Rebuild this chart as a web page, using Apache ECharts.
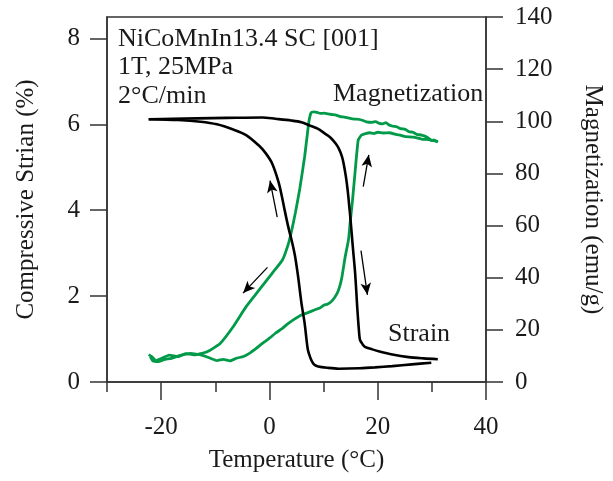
<!DOCTYPE html>
<html>
<head>
<meta charset="utf-8">
<script src="https://cdn.jsdelivr.net/npm/echarts@6/dist/echarts.min.js"></script>
<style>
  html, body { margin: 0; padding: 0; background: #fff; }
  #chart { width: 613px; height: 481px; }
</style>
</head>
<body>
<div id="chart"></div>
<script>
// Strain, heating branch (temperature °C, strain %)
const strainHeatT = [-22.3, -18, -13.3, -7.9, -1.3, 1.1, 4, 5.9, 7.5, 8.9, 10.2, 11.3, 12.2, 12.8, 13.4, 13.7, 14.1, 14.45, 14.7, 14.93, 15.2, 15.4, 15.83, 16.25, 16.5, 16.73, 17.2, 17.63, 19, 20.33, 22.7, 25.7, 28.5, 31.1];
const strainHeatS = [6.12, 6.13, 6.14, 6.15, 6.16, 6.13, 6.09, 6.05, 5.97, 5.90, 5.79, 5.69, 5.56, 5.44, 5.25, 5.09, 4.80, 4.47, 4.15, 3.85, 3.45, 3.15, 2.53, 1.68, 1.25, 0.98, 0.88, 0.82, 0.76, 0.71, 0.64, 0.58, 0.55, 0.53];

// Strain, cooling branch
const strainCoolT = [29.9, 26.3, 22.7, 19.5, 16.7, 12.8, 10.7, 9, 8.3, 7.9, 7.6, 7.1, 6.5, 5.9, 5.3, 4.7, 4.1, 3.5, 2.9, 2.3, 1.7, 0.5, -0.7, -1.9, -4.3, -6.7, -9.7, -12.7, -16.9, -22.3];
const strainCoolS = [0.45, 0.41, 0.37, 0.34, 0.32, 0.31, 0.33, 0.36, 0.40, 0.47, 0.55, 0.75, 1.37, 1.85, 2.45, 2.95, 3.30, 3.60, 3.95, 4.32, 4.65, 5.09, 5.33, 5.50, 5.75, 5.88, 6.00, 6.06, 6.10, 6.12];

// Magnetization, cooling branch (temperature °C, emu/g)
const magCoolT = [31.1, 30.4, 30, 29.2, 28.1, 27.2, 26.5, 25.8, 25.1, 24.2, 23.5, 22.8, 22.1, 21.5, 20.9, 20.3, 19.6, 19, 17.9, 17.0, 16.1, 15.3, 14.5, 13.8, 13.1, 12.3, 11.5, 10.8, 10.1, 9.4, 8.8, 8.2, 7.7, 7.3, 7.0, 6.5, 5.6, 4.8, 4.1, 3.5, 2.4, 0.5, -1.9, -4.3, -6.7, -9.1, -11.5, -13.9, -15.5, -16.9, -18.5, -19.9, -21.0, -21.7, -22.3];
const magCoolM = [92.0, 92.9, 92.6, 93.8, 94.7, 95.0, 95.8, 96.0, 96.9, 97.2, 97.9, 98.1, 98.6, 99.5, 99.0, 99.2, 99.9, 99.6, 99.8, 100.5, 100.8, 100.9, 101.3, 101.6, 101.8, 102.4, 102.6, 102.8, 103.1, 103.0, 103.4, 103.6, 103.3, 100.0, 95.0, 86.4, 74.0, 65.0, 58.0, 53.0, 46.8, 41.7, 35.3, 28.9, 21.2, 14.8, 11.6, 10.4, 10.9, 9.7, 10.3, 9.1, 8.2, 9.7, 10.5];

// Magnetization, heating branch
const magHeatT = [-22.0, -21.5, -20.5, -19.5, -18.1, -16.5, -14.5, -13.3, -12.7, -11.5, -10.9, -9.7, -8.5, -7.3, -6.1, -4.8, -3.7, -2.5, -1.3, 0, 1.1, 2.4, 3.5, 4.7, 5.9, 7.1, 8.3, 9.3, 10.1, 10.7, 11.6, 12.5, 13.0, 13.4, 14.0, 14.6, 14.9, 15.35, 15.8, 16.4, 17.0, 18.5, 19.3, 20, 21.0, 22.1, 23.5, 24.3, 25.1, 26.6, 28.1, 29.6, 31.1];
const magHeatM = [9.7, 8.0, 7.8, 8.6, 9.1, 10.2, 11.0, 10.6, 10.4, 9.6, 9.1, 8.2, 8.7, 8.1, 9.1, 9.8, 11.0, 12.8, 14.8, 16.8, 18.7, 20.6, 22.5, 24.2, 25.7, 26.6, 27.6, 28.4, 29.5, 29.8, 31.2, 34.0, 36.8, 40.4, 48.1, 54.5, 60.9, 69.8, 80.1, 92.8, 94.7, 95.6, 95.3, 95.8, 95.5, 95.6, 94.9, 94.6, 94.1, 93.9, 93.2, 92.9, 92.2];

// Axis tick values
const xMajorTicks = [-20, 0, 20, 40];
const xMinorTicks = [-30, -10, 10, 30];
const strainTicks = [0, 2, 4, 6, 8];

// Direction arrows, in (temperature, strain) units: [start, end]
const arrowPaths = [
  [[1.44, 3.84], [0.11, 4.69]],
  [[17.33, 4.55], [18.35, 5.29]],
  [[-0.36, 2.67], [-4.86, 2.07]],
  [[16.91, 3.06], [18.10, 2.03]]
];

const zip = (a, b) => a.map((v, i) => [v, b[i]]);

const FONT = "'Liberation Serif', 'DejaVu Serif', serif";
const AX = '#333';
const GREEN = '#009a49';

const chart = echarts.init(document.getElementById('chart'), null, { renderer: 'canvas' });

const axisLine = { show: true, onZero: false, lineStyle: { color: AX, width: 1.5 } };
const tickStyle = { color: AX, width: 1.5 };
const labelStyle = { fontFamily: FONT, fontSize: 25, color: '#1a1a1a' };
const nameStyle = { fontFamily: FONT, fontSize: 25, color: '#1a1a1a' };

chart.setOption({
  animation: false,
  backgroundColor: '#fff',
  grid: {
    left: 107, right: 117, top: 17, bottom: 99,
    show: true, borderColor: AX, borderWidth: 1.5, backgroundColor: 'transparent'
  },
  xAxis: [
    {
      type: 'value', min: -30, max: 40, interval: 10, position: 'bottom',
      axisLine,
      axisTick: { show: true, customValues: xMajorTicks, length: 18, lineStyle: tickStyle },
      axisLabel: Object.assign({ customValues: xMajorTicks, margin: 33 }, labelStyle),
      splitLine: { show: false },
      name: 'Temperature (°C)', nameLocation: 'middle', nameGap: 66, nameTextStyle: nameStyle
    },
    {
      type: 'value', min: -30, max: 40, interval: 10, position: 'bottom',
      axisLine: { show: false, onZero: false },
      axisTick: { show: true, customValues: xMinorTicks, length: 10, lineStyle: tickStyle },
      axisLabel: { show: false },
      splitLine: { show: false }
    }
  ],
  yAxis: [
    {
      type: 'value', min: 0, max: 8.5, interval: 2, position: 'left',
      axisLine,
      axisTick: { show: true, customValues: strainTicks, length: 17, lineStyle: tickStyle },
      axisLabel: Object.assign({ customValues: strainTicks, margin: 27 }, labelStyle),
      splitLine: { show: false },
      name: 'Compressive Strian (%)', nameLocation: 'middle', nameGap: 68, nameTextStyle: nameStyle
    },
    {
      type: 'value', min: 0, max: 140, interval: 20, position: 'right',
      axisLine,
      axisTick: { show: true, length: 17, lineStyle: tickStyle },
      axisLabel: Object.assign({ margin: 29 }, labelStyle),
      splitLine: { show: false },
      name: 'Magnetization (emu/g)', nameLocation: 'middle', nameGap: 94, nameRotate: -90, nameTextStyle: nameStyle
    }
  ],
  series: [
    {
      name: 'Strain heating', type: 'line', xAxisIndex: 0, yAxisIndex: 0,
      data: zip(strainHeatT, strainHeatS), showSymbol: false, smooth: 0.3,
      lineStyle: { color: '#000', width: 2.6 }, z: 3,
      markLine: {
        silent: true, symbol: ['none', 'arrow'], symbolSize: [8, 12],
        label: { show: false },
        lineStyle: { color: '#000', width: 1.3, type: 'solid' },
        emphasis: { disabled: true },
        data: arrowPaths.map(p => [{ coord: p[0] }, { coord: p[1] }])
      }
    },
    {
      name: 'Strain cooling', type: 'line', xAxisIndex: 0, yAxisIndex: 0,
      data: zip(strainCoolT, strainCoolS), showSymbol: false, smooth: 0.3,
      lineStyle: { color: '#000', width: 2.6 }, z: 3
    },
    {
      name: 'Magnetization cooling', type: 'line', xAxisIndex: 0, yAxisIndex: 1,
      data: zip(magCoolT, magCoolM), showSymbol: false, smooth: 0.15,
      lineStyle: { color: GREEN, width: 2.8 }, z: 2
    },
    {
      name: 'Magnetization heating', type: 'line', xAxisIndex: 0, yAxisIndex: 1,
      data: zip(magHeatT, magHeatM), showSymbol: false, smooth: 0.15,
      lineStyle: { color: GREEN, width: 2.8 }, z: 2
    }
  ],
  graphic: [
    { type: 'text', left: 118, top: 26, style: { text: 'NiCoMnIn13.4 SC [001]', font: '26px ' + FONT, fill: '#1a1a1a' } },
    { type: 'text', left: 118, top: 54.5, style: { text: '1T, 25MPa', font: '26px ' + FONT, fill: '#1a1a1a' } },
    { type: 'text', left: 118, top: 83, style: { text: '2°C/min', font: '26px ' + FONT, fill: '#1a1a1a' } },
    { type: 'text', left: 333, top: 81, style: { text: 'Magnetization', font: '26px ' + FONT, fill: '#1a1a1a' } },
    { type: 'text', left: 388, top: 321, style: { text: 'Strain', font: '26px ' + FONT, fill: '#1a1a1a' } }
  ]
});
</script>
</body>
</html>
